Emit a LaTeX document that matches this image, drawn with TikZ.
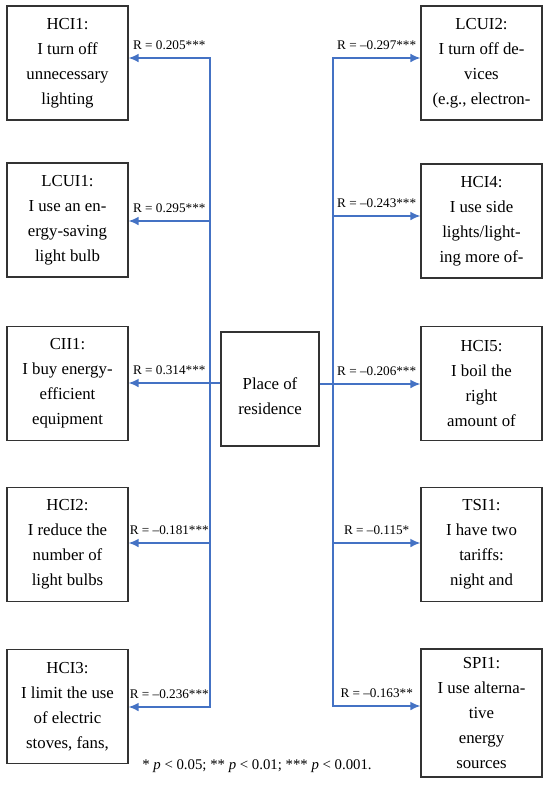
\documentclass[tikz,border=0pt]{standalone}
\usepackage{fontspec}
\setmainfont{Liberation Serif}
\usetikzlibrary{arrows.meta}
\begin{document}
\begin{tikzpicture}[
    x=.5pt,y=-.5pt,
    font=\rmfamily\fontsize{8.4}{12.5}\selectfont,
    item/.style={draw=boxline,line width=.6pt,align=center,inner sep=0pt,
      minimum width=60.5pt,minimum height=57pt},
    link/.style={draw=rblue,line width=.8pt},
    arrowlink/.style={link,-{Latex[length=5pt,width=4.4pt]}},
    rlabel/.style={above,inner sep=1pt,yshift=3pt,
      font=\rmfamily\fontsize{6.6}{7}\selectfont}
  ]
    \definecolor{rblue}{HTML}{4472C4}
    \definecolor{boxline}{HTML}{333333}
    \path[use as bounding box] (0,0) rectangle (550,793);
    \node[item] (hci1) at (67.5,63) {HCI1:\\I turn off\\unnecessary\\lighting};
    \node[item] (lcui1) at (67.5,220) {LCUI1:\\I use an en-\\ergy-saving\\light bulb};
    \node[item] (cii1) at (67.5,383.5) {CII1:\\I buy energy-\\efficient\\equipment};
    \node[item] (hci2) at (67.5,544.5) {HCI2:\\I reduce the\\number of\\light bulbs};
    \node[item] (hci3) at (67.5,706.5) {HCI3:\\I limit the use\\of electric\\stoves, fans,};
    \node[item] (lcui2) at (481.5,63) {LCUI2:\\I turn off de-\\vices\\(e.g., electron-};
    \node[item] (hci4) at (481.5,221) {HCI4:\\I use side\\lights/light-\\ing more of-};
    \node[item] (hci5) at (481.5,383.5) {HCI5:\\I boil the\\right\\amount of};
    \node[item] (tsi1) at (481.5,544.5) {TSI1:\\I have two\\tariffs:\\night and};
    \node[item,minimum height=64pt] (spi1) at (481.5,713) {SPI1:\\I use alterna-\\tive\\energy\\sources};
    \node[item,minimum width=49pt,minimum height=57pt] (place) at (270,389)
      {\rule{0pt}{12.7pt}Place of\\residence};
    \coordinate (l1) at (210,58);
    \coordinate (l2) at (210,221);
    \coordinate (l3) at (210,383);
    \coordinate (l4) at (210,543);
    \coordinate (l5) at (210,707);
    \coordinate (r1) at (333,58);
    \coordinate (r2) at (333,216);
    \coordinate (r3) at (333,384);
    \coordinate (r4) at (333,543);
    \coordinate (r5) at (333,706);
    \draw[arrowlink] (l2) -- (l1) -- node[rlabel] {R = 0.205***} (l1 -| hci1.east);
    \draw[arrowlink] (l2) -- node[rlabel] {R = 0.295***} (l2 -| lcui1.east);
    \draw[link] (l2) -- (l4);
    \draw[arrowlink] (place.west |- l3) -- (l3) -- node[rlabel] {R = 0.314***} (l3 -| cii1.east);
    \draw[arrowlink] (l4) -- node[rlabel] {R = \textendash0.181***} (l4 -| hci2.east);
    \draw[arrowlink] (l4) -- (l5) -- node[rlabel] {R = \textendash0.236***} (l5 -| hci3.east);
    \draw[arrowlink] (r2) -- (r1) -- node[rlabel] {R = \textendash0.297***} (r1 -| lcui2.west);
    \draw[arrowlink] (r2) -- node[rlabel] {R = \textendash0.243***} (r2 -| hci4.west);
    \draw[link] (r2) -- (r4);
    \draw[arrowlink] (place.east |- r3) -- (r3) -- node[rlabel] {R = \textendash0.206***} (r3 -| hci5.west);
    \draw[arrowlink] (r4) -- node[rlabel] {R = \textendash0.115*} (r4 -| tsi1.west);
    \draw[arrowlink] (r4) -- (r5) -- node[rlabel] {R = \textendash0.163**} (r5 -| spi1.west);
    \node[anchor=base,font=\rmfamily\fontsize{7.4}{9}\selectfont] (note) at (257,769)
      {* \textit{p} < 0.05; ** \textit{p} < 0.01; *** \textit{p} < 0.001.};
  \end{tikzpicture}
\end{document}
